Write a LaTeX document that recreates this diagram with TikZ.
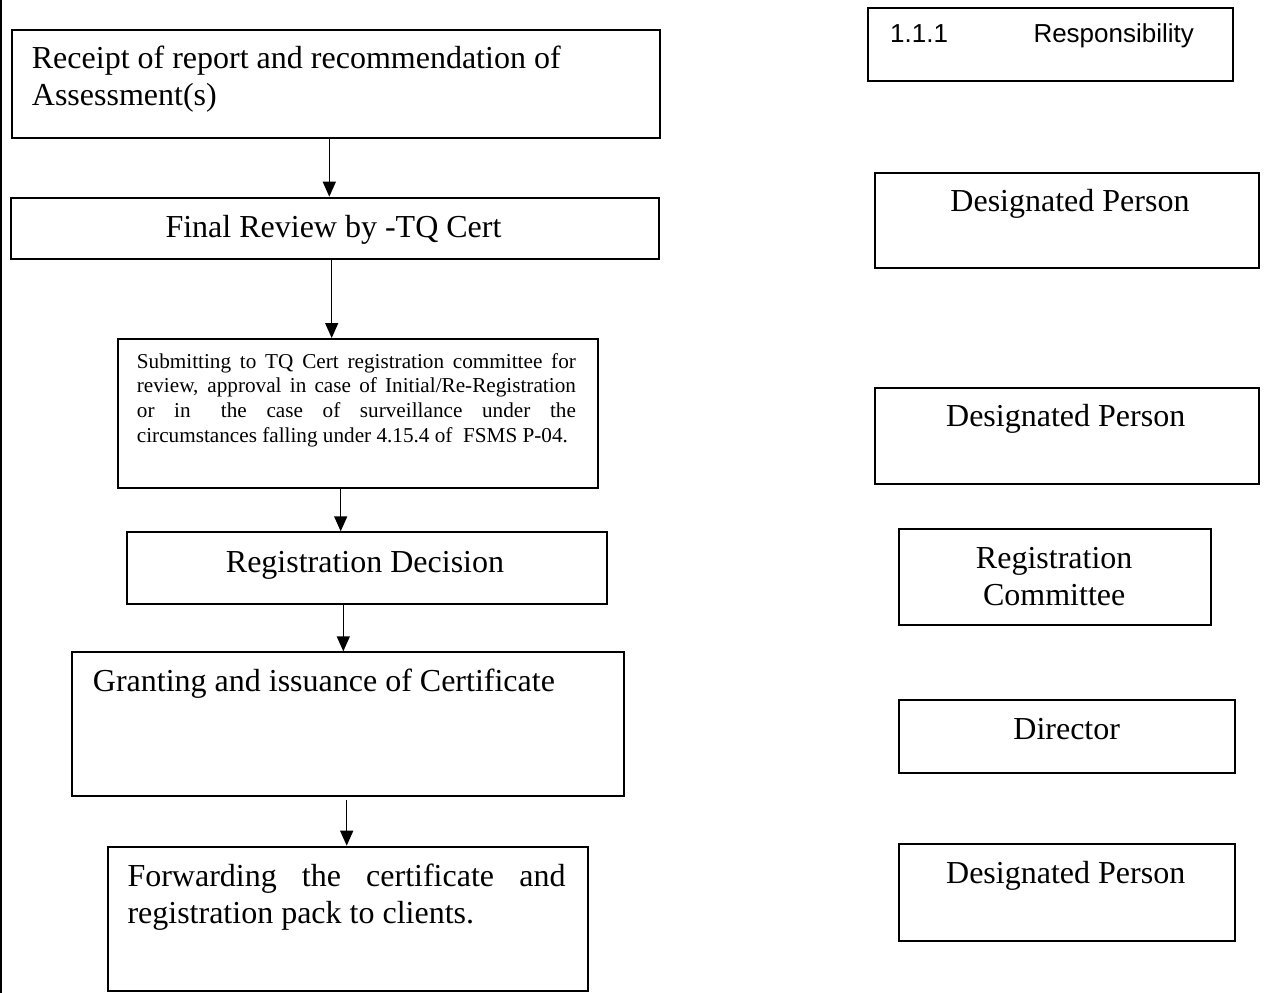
\documentclass[tikz,border=0pt]{standalone}
\usepackage{fontspec}
\setmainfont{Liberation Serif}
\newfontfamily\arialf{Liberation Sans}
\usetikzlibrary{arrows.meta}
\begin{document}
\begin{tikzpicture}[x=1pt,y=-1pt,
  box/.style={draw,line width=1.8pt,inner sep=0pt,anchor=north west},
  big/.style={font=\fontsize{32}{37}\selectfont,inner sep=0pt},
  small/.style={font=\fontsize{21.2}{24.6}\selectfont,inner sep=0pt},
  sans/.style={font=\arialf\fontsize{26}{30}\selectfont,inner sep=0pt},
  arr/.style={line width=1.4pt,-{Triangle[length=15pt,width=13pt]}}]
\useasboundingbox (0,0) rectangle (1264,993);
% page edge line
\draw[line width=1.6pt] (1,0) -- (1,993);
% left column boxes
\node[box,minimum width=648.6pt,minimum height=107.7pt] (b1) at (10.7,29.3) {};
\node[box,minimum width=648pt,minimum height=61.6pt] (b2) at (10,196.7) {};
\node[box,minimum width=480pt,minimum height=148.7pt] (b3) at (116.7,338) {};
\node[box,minimum width=480pt,minimum height=71.7pt] (b4) at (126,531.3) {};
\node[box,minimum width=552.6pt,minimum height=144pt] (b5) at (70.7,651.3) {};
\node[box,minimum width=480pt,minimum height=144pt] (b6) at (106.7,845.7) {};
% left column texts
\node[big,anchor=base west] (t1) at (31.7,68.3) {\parbox[t]{600pt}{\raggedright Receipt of report and recommendation of\\Assessment(s)}};
\node[big,anchor=base] (t2) at (333.5,237) {Final Review by -TQ Cert};
\node[small,anchor=base west] (t3) at (136.7,368.3) {\parbox[t]{439pt}{\hyphenpenalty=10000 Submitting to TQ Cert registration committee for\linebreak review, approval in case of Initial/Re-Registration\linebreak or in\hspace{0.5em} the case of surveillance under the\linebreak \mbox{circumstances falling under 4.15.4 of\hspace{0.25em} FSMS P-04.}}};
\node[big,anchor=base] (t4) at (365,572.3) {Registration Decision};
\node[big,anchor=base west] (t5) at (92.7,691.3) {Granting and issuance of Certificate};
\node[big,anchor=base west] (t6) at (127.3,886.3) {\parbox[t]{438pt}{\hyphenpenalty=10000 Forwarding the certificate and\linebreak registration pack to clients.}};
% arrows
\coordinate (x1) at (329.3,0);
\coordinate (x2) at (331.7,0);
\coordinate (x3) at (340.7,0);
\coordinate (x4) at (343.3,0);
\coordinate (x5) at (346.7,0);
\draw[arr] (b1.south -| x1) -- (b2.north -| x1);
\draw[arr] (b2.south -| x2) -- (b3.north -| x2);
\draw[arr] (b3.south -| x3) -- (b4.north -| x3);
\draw[arr] (b4.south -| x4) -- (b5.north -| x4);
\draw[arr,shorten <=2.5pt] (b5.south -| x5) -- (b6.north -| x5);
% right column boxes
\node[box,minimum width=365pt,minimum height=72.7pt] (r0) at (867.3,7.3) {};
\node[box,minimum width=384.3pt,minimum height=95pt] (r1) at (874,171.7) {};
\node[box,minimum width=384.3pt,minimum height=96pt] (r2) at (874,387.3) {};
\node[box,minimum width=312.3pt,minimum height=96.3pt] (r3) at (897.7,527.7) {};
\node[box,minimum width=336.6pt,minimum height=72.4pt] (r4) at (897.7,699.3) {};
\node[box,minimum width=336.6pt,minimum height=96.7pt] (r5) at (897.7,843.3) {};
% right column texts
\node[sans,anchor=base west] (s0) at (890,42.7) {\makebox[143.3pt][l]{1.1.1}Responsibility};
\node[big,anchor=base] (s1) at (1070,211.7) {Designated Person};
\node[big,anchor=base] (s2) at (1065.7,426.7) {Designated Person};
\node[big,anchor=base] (s3) at (1054.2,568.3) {\parbox[t]{280pt}{\centering Registration\\Committee}};
\node[big,anchor=base] (s4) at (1066.7,739.3) {Director};
\node[big,anchor=base] (s5) at (1065.7,883.3) {Designated Person};
\end{tikzpicture}
\end{document}
